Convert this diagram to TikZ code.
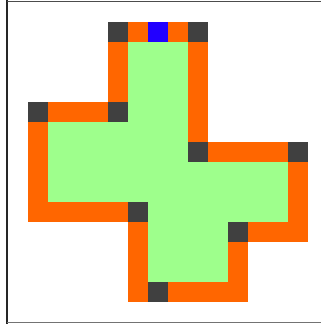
\documentclass[tikz,border=0pt]{standalone}
\definecolor{org}{HTML}{FF6600}
\definecolor{drk}{HTML}{404040}
\definecolor{blu}{HTML}{2200FF}
\definecolor{grn}{HTML}{9EFF8C}
\newcommand{\cell}[3]{\fill[#3] ({8+20*#1},{2+20*#2}) rectangle ++(20,20);}
\newcommand{\cellrange}[4]{\foreach \cc in {#1,...,#2} {\cell{\cc}{#3}{#4}}}
\newcommand{\cellcol}[4]{\foreach \rr in {#2,...,#3} {\cell{#1}{\rr}{#4}}}
\begin{document}
\begin{tikzpicture}[x=1pt,y=-1pt]
\useasboundingbox (0,0) rectangle (321,324);
\fill[white] (0,0) rectangle (321,324);
% green interior
\fill[grn] (128,42) rectangle (188,142);
\fill[grn] (48,122) rectangle (188,202);
\fill[grn] (48,162) rectangle (288,202);
\fill[grn] (148,202) rectangle (288,222);
\fill[grn] (148,222) rectangle (228,282);
% row 1
\cell{5}{1}{drk}\cell{6}{1}{org}\cell{7}{1}{blu}\cell{8}{1}{org}\cell{9}{1}{drk}
\cellcol{5}{2}{4}{org}
\cellcol{9}{2}{6}{org}
% row 5
\cell{1}{5}{drk}\cellrange{2}{4}{5}{org}\cell{5}{5}{drk}
\cellcol{1}{6}{10}{org}
\cellrange{2}{5}{10}{org}\cell{6}{10}{drk}
% row 7
\cell{9}{7}{drk}\cellrange{10}{13}{7}{org}\cell{14}{7}{drk}
\cellcol{14}{8}{11}{org}
\cell{11}{11}{drk}\cellrange{12}{13}{11}{org}
\cellcol{6}{11}{14}{org}
\cellcol{11}{12}{14}{org}
\cell{7}{14}{drk}\cellrange{8}{10}{14}{org}
% frame
\draw[line width=1.5pt,black!85] (7,0) -- (7,324);
\draw[line width=1.5pt,black!70] (7,1.5) -- (321,1.5);
\draw[line width=1.5pt,black!55] (7,322.5) -- (321,322.5);
\end{tikzpicture}
\end{document}
